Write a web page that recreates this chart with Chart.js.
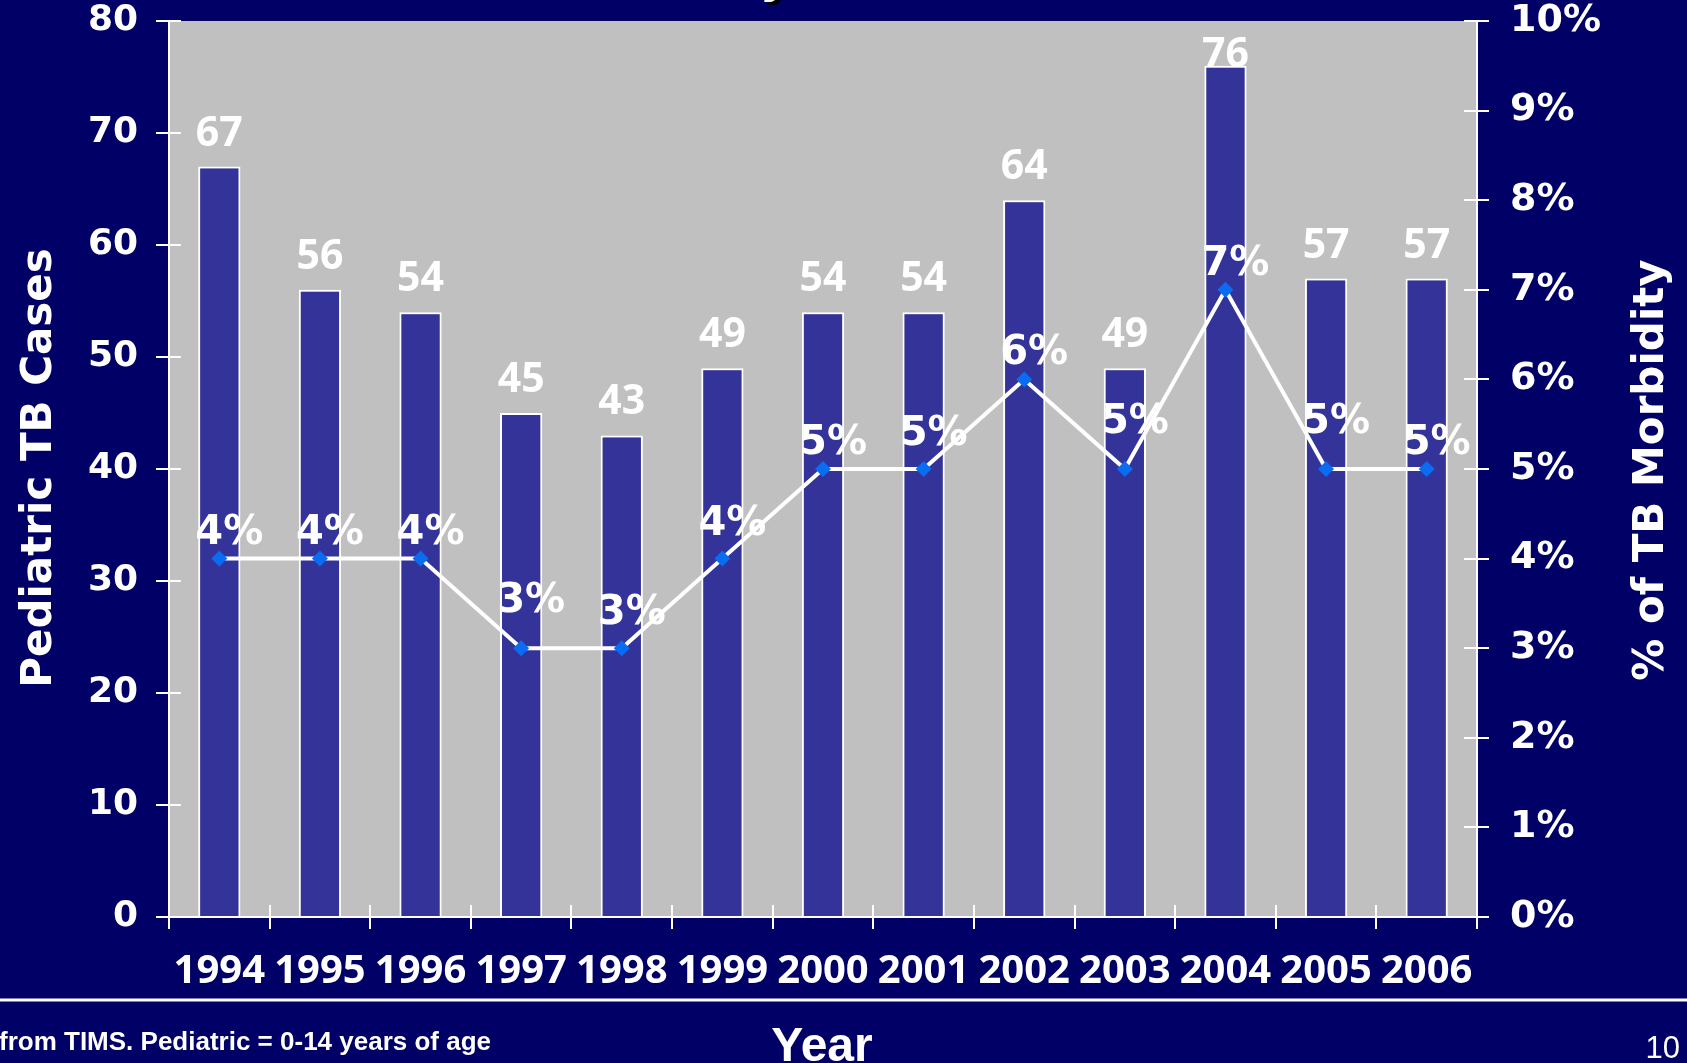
<!DOCTYPE html>
<html>
<head>
<meta charset="utf-8">
<script src="https://cdn.jsdelivr.net/npm/chart.js@4.4.1/dist/chart.umd.min.js"></script>
<style>
html, body { margin: 0; padding: 0; background: #000066; overflow: hidden; }
canvas { display: block; }
</style>
</head>
<body>
<canvas id="chartTB" width="1687" height="1063"></canvas>
<script>
// datos
const years = ['1994', '1995', '1996', '1997', '1998', '1999', '2000', '2001', '2002', '2003', '2004', '2005', '2006'];
const pediatricCases = [67, 56, 54, 45, 43, 49, 54, 54, 64, 49, 76, 57, 57];
const pctMorbidity = [4, 4, 4, 3, 3, 4, 5, 5, 6, 5, 7, 5, 5];
const caseTicks = [0, 10, 20, 30, 40, 50, 60, 70, 80];
const pctTicks = [0, 1, 2, 3, 4, 5, 6, 7, 8, 9, 10];

const NAVY = '#000066';
const WHITE = '#ffffff';

// fondo de la pagina y del area del grafico
const fondoPlugin = {
    id: 'fondo',
    beforeDraw(chart) {
        const { ctx, chartArea: a } = chart;
        ctx.save();
        ctx.fillStyle = NAVY;
        ctx.fillRect(0, 0, chart.width, chart.height);
        ctx.fillStyle = '#C0C0C0';
        ctx.fillRect(a.left, a.top, a.right - a.left, a.bottom - a.top);
        ctx.restore();
    }
};

// lineas de ejes y marcas que cruzan el eje
const ejesPlugin = {
    id: 'ejes',
    afterDraw(chart) {
        const { ctx, chartArea: a, scales } = chart;
        ctx.save();
        ctx.strokeStyle = WHITE;
        ctx.lineWidth = 2;
        ctx.beginPath();
        ctx.moveTo(a.left, a.top);
        ctx.lineTo(a.left, a.bottom);
        ctx.lineTo(a.right, a.bottom);
        ctx.lineTo(a.right, a.top);
        ctx.stroke();

        ctx.beginPath();
        scales.y.ticks.forEach(t => {
            const y = Math.round(scales.y.getPixelForValue(t.value));
            ctx.moveTo(a.left - 13, y); ctx.lineTo(a.left + 12, y);
        });
        scales.y1.ticks.forEach(t => {
            const y = Math.round(scales.y1.getPixelForValue(t.value));
            ctx.moveTo(a.right - 13, y); ctx.lineTo(a.right + 12, y);
        });
        for (let i = 0; i <= years.length; i++) {
            const x = Math.round(scales.x.getPixelForValue(i - 0.5));
            ctx.moveTo(x, a.bottom - 12); ctx.lineTo(x, a.bottom + 12);
        }
        ctx.stroke();
        ctx.restore();
    }
};

// etiquetas de valores (casos encima de las barras, % encima de los puntos)
const etiquetasPlugin = {
    id: 'etiquetas',
    afterDatasetsDraw(chart) {
        const { ctx, chartArea: a } = chart;
        ctx.save();
        ctx.fillStyle = WHITE;
        ctx.textAlign = 'center';
        ctx.textBaseline = 'alphabetic';

        ctx.font = 'bold 41px "Open Sans"';
        chart.getDatasetMeta(0).data.forEach((bar, i) => {
            const y = Math.max(bar.y - 21, a.top + 46);
            ctx.fillText(String(pediatricCases[i]), bar.x, y);
        });

        // se sube la etiqueta si la linea viene desde mas arriba
        ctx.font = 'bold 40px "DejaVu Sans"';
        chart.getDatasetMeta(1).data.forEach((pt, i) => {
            const v = pctMorbidity[i];
            const izqAlto = i > 0 && pctMorbidity[i - 1] > v;
            const derAlto = i < pctMorbidity.length - 1 && pctMorbidity[i + 1] > v;
            const gap = izqAlto ? 36 : (derAlto ? 24 : 15);
            ctx.fillText(v + '%', pt.x + 10, pt.y - gap);
        });
        ctx.restore();
    }
};

// titulos de ejes, nota al pie, numero de pagina
const textosPlugin = {
    id: 'textos',
    afterDraw(chart) {
        const { ctx } = chart;
        ctx.save();
        ctx.fillStyle = WHITE;

        // titulo izquierdo
        ctx.save();
        ctx.translate(51, 468);
        ctx.rotate(-Math.PI / 2);
        ctx.textAlign = 'center';
        ctx.textBaseline = 'alphabetic';
        ctx.font = 'bold 42px "DejaVu Sans"';
        ctx.fillText('Pediatric TB Cases', 0, 0);
        ctx.restore();

        // titulo derecho
        ctx.save();
        ctx.translate(1663, 470);
        ctx.rotate(-Math.PI / 2);
        ctx.textAlign = 'center';
        ctx.textBaseline = 'alphabetic';
        ctx.font = 'bold 42px "DejaVu Sans"';
        ctx.fillText('% of TB Morbidity', 0, 0);
        ctx.restore();

        // resto del titulo cortado arriba
        ctx.font = 'bold 44px "DejaVu Sans"';
        ctx.textAlign = 'left';
        ctx.fillStyle = '#000000';
        ctx.fillText('y', 764, -4);
        ctx.fillStyle = WHITE;
        ctx.fillText('y', 760, -7);

        // linea inferior
        ctx.strokeStyle = WHITE;
        ctx.lineWidth = 3;
        ctx.beginPath();
        ctx.moveTo(0, 1000); ctx.lineTo(chart.width, 1000);
        ctx.stroke();

        ctx.textAlign = 'left';
        ctx.font = 'bold 26px "Liberation Sans"';
        ctx.fillText('from TIMS. Pediatric = 0-14 years of age', -1, 1050);

        ctx.textAlign = 'center';
        ctx.font = 'bold 48px "Liberation Sans"';
        ctx.fillText('Year', 822, 1061);

        ctx.textAlign = 'right';
        ctx.font = '31px "Liberation Sans"';
        ctx.fillText('10', 1680, 1058);
        ctx.restore();
    }
};

const leftTickFont = { family: '"DejaVu Sans"', size: 36, weight: 'bold' };
const rightTickFont = { family: '"DejaVu Sans"', size: 38, weight: 'bold' };

new Chart(document.getElementById('chartTB').getContext('2d'), {
    data: {
        labels: years,
        datasets: [{
            type: 'bar',
            label: 'Pediatric TB Cases',
            data: pediatricCases,
            yAxisID: 'y',
            backgroundColor: '#333399',
            borderColor: WHITE,
            borderWidth: 2,
            barPercentage: 0.42,
            categoryPercentage: 1,
            order: 2
        }, {
            type: 'line',
            label: '% of TB Morbidity',
            data: pctMorbidity,
            yAxisID: 'y1',
            borderColor: WHITE,
            borderWidth: 4,
            tension: 0,
            pointStyle: 'rectRot',
            pointRadius: 8,
            pointBackgroundColor: '#0A6CF0',
            pointBorderWidth: 0,
            order: 1
        }]
    },
    options: {
        responsive: false,
        animation: false,
        events: [],
        layout: { padding: { top: 21, left: 0, right: 0, bottom: 0 } },
        plugins: {
            legend: { display: false },
            tooltip: { enabled: false }
        },
        scales: {
            x: {
                offset: true,
                grid: { display: false, drawTicks: false },
                border: { display: false },
                ticks: {
                    color: WHITE,
                    font: { family: '"Open Sans"', size: 40, weight: 'bold' },
                    padding: 31,
                    maxRotation: 0,
                    autoSkip: false
                },
                afterFit(s) { s.height = 146; s.paddingLeft = 0; s.paddingRight = 0; }
            },
            y: {
                position: 'left',
                min: 0,
                max: 80,
                afterBuildTicks(s) { s.ticks = caseTicks.map(v => ({ value: v })); },
                grid: { display: false, drawTicks: false },
                border: { display: false },
                ticks: { color: WHITE, font: leftTickFont, padding: 31 },
                afterFit(s) { s.width = 169; s.paddingTop = 0; s.paddingBottom = 0; }
            },
            y1: {
                position: 'right',
                min: 0,
                max: 10,
                afterBuildTicks(s) { s.ticks = pctTicks.map(v => ({ value: v })); },
                grid: { display: false, drawTicks: false },
                border: { display: false },
                ticks: { color: WHITE, font: rightTickFont, padding: 33, callback: v => v + '%' },
                afterFit(s) { s.width = 210; s.paddingTop = 0; s.paddingBottom = 0; }
            }
        }
    },
    plugins: [fondoPlugin, ejesPlugin, etiquetasPlugin, textosPlugin]
});
</script>
</body>
</html>
